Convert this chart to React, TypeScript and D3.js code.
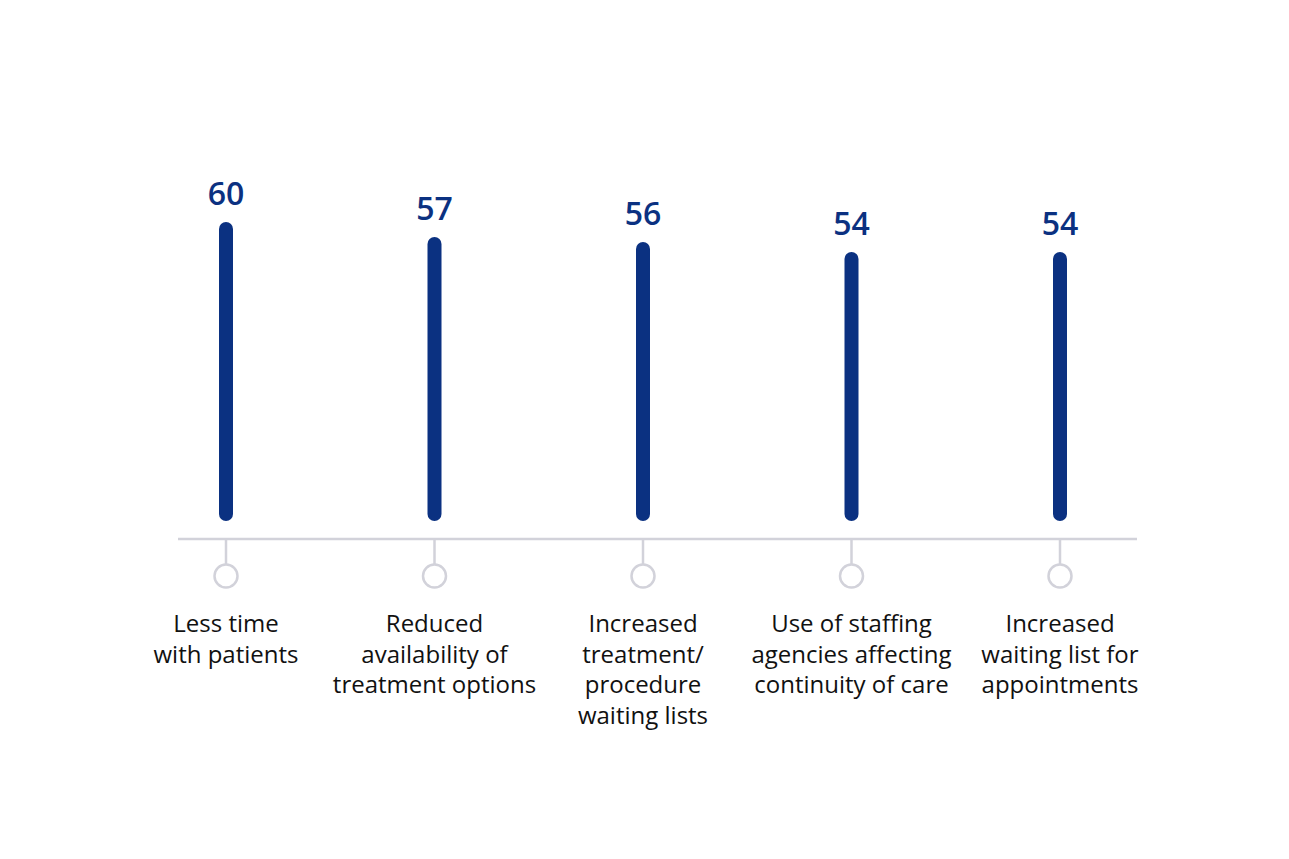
import React from "react";
import * as d3 from "d3";

const categories: string[][] = [
  ["Less time", "with patients"],
  ["Reduced", "availability of", "treatment options"],
  ["Increased", "treatment/", "procedure", "waiting lists"],
  ["Use of staffing", "agencies affecting", "continuity of care"],
  ["Increased", "waiting list for", "appointments"],
];
const values: number[] = [60, 57, 56, 54, 54];

const W = 1289;
const H = 859;
const NAVY = "#0b3181";
const GREY = "#d2d2da";

export default function App() {
  const x = d3
    .scalePoint<number>()
    .domain(d3.range(values.length))
    .range([226, 1060]);
  const y = d3.scaleLinear().domain([0, 60]).range([521, 222]);
  const barW = 14;
  const axisY = 539;

  return (
    <svg
      width={W}
      height={H}
      style={{ position: "absolute", left: 0, top: 0, background: "#fff" }}
    >
      <line x1={178} x2={1137} y1={axisY} y2={axisY} stroke={GREY} strokeWidth={2.5} />
      {values.map((v, i) => {
        const cx = x(i)!;
        return (
          <g key={i}>
            <rect
              x={cx - barW / 2}
              y={y(v)}
              width={barW}
              height={y(0) - y(v)}
              rx={barW / 2}
              fill={NAVY}
            />
            <text
              x={cx}
              y={y(v) - 17}
              textAnchor="middle"
              fontFamily="'Open Sans', sans-serif"
              fontWeight={600}
              fontSize={32}
              fill={NAVY}
            >
              {v}
            </text>
            <line x1={cx} x2={cx} y1={axisY} y2={564} stroke={GREY} strokeWidth={2.5} />
            <circle cx={cx} cy={576} r={11.5} fill="#fff" stroke={GREY} strokeWidth={2.5} />
            <text
              textAnchor="middle"
              fontFamily="'Open Sans', sans-serif"
              fontSize={24}
              fill="#111"
            >
              {categories[i].map((line, j) => (
                <tspan key={j} x={cx} y={632 + j * 30.5}>
                  {line}
                </tspan>
              ))}
            </text>
          </g>
        );
      })}
    </svg>
  );
}
